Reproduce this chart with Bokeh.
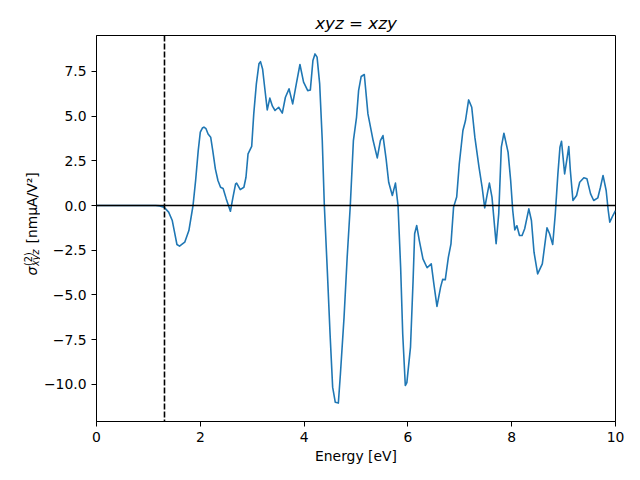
import math
from bokeh.plotting import figure
from bokeh.layouts import row
from bokeh.models import Span, FixedTicker, Label, Range1d, ColumnDataSource
from bokeh.embed import file_html
from bokeh.resources import INLINE

# ---- data ----
energy = [0.0, 0.5, 1.0, 1.14, 1.22, 1.30, 1.39, 1.46, 1.51, 1.55, 1.60, 1.70, 1.78, 1.86,
          1.91, 1.96, 2.00, 2.04, 2.07, 2.11, 2.15, 2.20, 2.24, 2.29, 2.34, 2.39, 2.44, 2.50,
          2.58, 2.63, 2.68, 2.70, 2.77, 2.84, 2.88, 2.92, 2.99, 3.03, 3.08, 3.13, 3.16, 3.20,
          3.24, 3.29, 3.34, 3.39, 3.44, 3.51, 3.58, 3.64, 3.71, 3.78, 3.85, 3.92, 3.99, 4.07,
          4.12, 4.17, 4.21, 4.25, 4.30, 4.35, 4.39, 4.45, 4.50, 4.55, 4.60, 4.66, 4.70, 4.77,
          4.83, 4.89, 4.95, 5.01, 5.05, 5.10, 5.16, 5.23, 5.33, 5.41, 5.47, 5.52, 5.58, 5.63,
          5.70, 5.76, 5.81, 5.86, 5.90, 5.95, 5.98, 6.05, 6.10, 6.13, 6.17, 6.22, 6.29, 6.37,
          6.45, 6.50, 6.56, 6.63, 6.67, 6.72, 6.78, 6.83, 6.88, 6.94, 6.99, 7.06, 7.11, 7.17,
          7.23, 7.29, 7.37, 7.43, 7.48, 7.53, 7.57, 7.62, 7.70, 7.75, 7.80, 7.85, 7.93, 7.98,
          8.02, 8.06, 8.10, 8.15, 8.20, 8.25, 8.33, 8.38, 8.43, 8.50, 8.59, 8.68, 8.73, 8.79,
          8.84, 8.89, 8.93, 8.96, 9.02, 9.07, 9.10, 9.13, 9.18, 9.25, 9.31, 9.39, 9.45, 9.52,
          9.58, 9.66, 9.71, 9.76, 9.82, 9.86, 9.89, 9.95, 10.0]
sigma = [0.0, 0.0, 0.0, 0.0, -0.02, -0.09, -0.37, -0.84, -1.58, -2.18, -2.27, -2.05, -1.40, 0.0,
         1.40, 3.07, 4.10, 4.33, 4.38, 4.29, 4.00, 3.82, 3.07, 2.05, 1.40, 1.02, 0.95, 0.37,
         -0.32, 0.47, 1.21, 1.25, 0.89, 1.02, 1.58, 2.89, 3.30, 5.12, 6.80, 7.92, 8.04, 7.63,
         6.61, 5.34, 6.00, 5.55, 5.31, 5.49, 5.16, 6.05, 6.52, 5.68, 6.80, 7.88, 6.89, 6.42,
         6.45, 8.10, 8.47, 8.29, 6.80, 3.63, 0.0, -3.82, -7.17, -10.15, -10.99, -11.04, -9.40, -6.24,
         -2.89, 0.0, 3.63, 4.93, 6.42, 7.21, 7.32, 5.12, 3.63, 2.66, 3.63, 3.91, 2.60, 1.30,
         0.56, 1.25, 0.0, -3.45, -7.17, -10.06, -9.90, -7.91, -4.19, -1.58, -1.12, -1.96, -2.98, -3.48,
         -3.26, -4.38, -5.64, -4.56, -4.13, -4.15, -2.89, -2.14, -0.09, 0.47, 2.33, 4.19, 4.75, 5.90,
         5.49, 3.82, 2.14, 1.02, -0.13, 0.65, 1.25, 0.47, -2.14, -0.47, 3.26, 4.04, 2.98, 1.40,
         -0.28, -1.36, -1.13, -1.68, -1.68, -1.30, -0.19, -0.84, -2.61, -3.82, -3.26, -1.25, -1.58, -2.18,
         -0.47, 1.77, 3.26, 3.59, 1.77, 2.70, 3.30, 1.96, 0.28, 0.56, 1.30, 1.55, 1.49, 0.65,
         0.28, 0.43, 1.02, 1.68, 0.84, -0.28, -0.93, -0.56, -0.28]
band_gap = 1.31
x_ticks = [0, 2, 4, 6, 8, 10]
y_ticks = [-10.0, -7.5, -5.0, -2.5, 0.0, 2.5, 5.0, 7.5]
y_tick_labels = ["\u221210.0", "\u22127.5", "\u22125.0", "\u22122.5", "0.0", "2.5", "5.0", "7.5"]
title_text = "xyz = xzy"
x_label = "Energy [eV]"
y_label_symbol = "\u03c3"
y_label_sup = "(2)"
y_label_sub = "xyz"
y_label_unit = "[nm\u03bcA/V\u00b2]"

FONT = "DejaVu Sans"
LABEL_STRIP_W = 40

# ---- main plot ----
p = figure(width=632 - LABEL_STRIP_W, height=472, output_backend="svg", toolbar_location=None,
           x_range=Range1d(0, 10), y_range=Range1d(-12.07, 9.5),
           min_border_left=96 - LABEL_STRIP_W, min_border_right=17,
           min_border_top=35, min_border_bottom=51)
p.title.text = title_text
p.title.align = "center"
p.title.text_font = FONT
p.title.text_font_style = "italic"
p.title.text_font_size = "16.7px"
p.title.text_color = "black"
p.title.standoff = 6

p.xgrid.visible = False
p.ygrid.visible = False
p.outline_line_color = "black"
p.outline_line_width = 1
p.outline_line_alpha = 1

for ax in (p.xaxis[0], p.yaxis[0]):
    ax.axis_line_color = "black"
    ax.major_tick_line_color = "black"
    ax.major_tick_out = 5
    ax.major_tick_in = 0
    ax.minor_tick_line_color = None
    ax.major_label_text_font = FONT
    ax.major_label_text_font_size = "13.9px"
    ax.major_label_text_color = "black"
    ax.major_label_standoff = 5

p.xaxis[0].ticker = FixedTicker(ticks=x_ticks)
p.xaxis[0].axis_label = x_label
p.xaxis[0].axis_label_text_font = FONT
p.xaxis[0].axis_label_text_font_size = "13.9px"
p.xaxis[0].axis_label_text_font_style = "normal"
p.xaxis[0].axis_label_text_color = "black"
p.xaxis[0].axis_label_standoff = 3

p.yaxis[0].ticker = FixedTicker(ticks=y_ticks)
p.yaxis[0].major_label_overrides = {t: s for t, s in zip(y_ticks, y_tick_labels)}

src = ColumnDataSource(data=dict(energy=energy, sigma=sigma))
p.line("energy", "sigma", source=src, line_color="#1f77b4", line_width=1.6,
       line_join="round")

p.add_layout(Span(location=0, dimension="width", line_color="black", line_width=1.6))
p.add_layout(Span(location=band_gap, dimension="height", line_color="black",
                  line_width=1.6, line_dash="6 2"))

# ---- narrow strip carrying the y-axis label (sigma with super/subscripts) ----
lab = figure(width=LABEL_STRIP_W, height=472, output_backend="svg", toolbar_location=None,
             x_axis_type=None, y_axis_type=None, x_range=Range1d(0, 1), y_range=Range1d(0, 1),
             min_border=0, min_border_left=0, min_border_right=0,
             min_border_top=0, min_border_bottom=0)
lab.outline_line_color = None
lab.background_fill_color = "white"
lab.border_fill_color = "white"

rot = math.pi / 2
def ylab(text, x, y, size, style):
    lab.add_layout(Label(x=x, y=y, x_units="canvas", y_units="canvas", text=text,
                         angle=rot, text_font=FONT, text_font_size=size,
                         text_font_style=style, text_baseline="alphabetic",
                         text_align="left", text_color="black"))

ylab(y_label_symbol, 31, 275, "13.9px", "italic")
ylab(y_label_sup, 27.5, 265.5, "9.7px", "normal")
ylab(y_label_sub, 35, 265.5, "9.7px", "italic")
ylab(y_label_unit, 31, 243, "13.9px", "normal")

layout = row(lab, p)
out = file_html(layout, INLINE)
open("out.html", "w").write(out)
